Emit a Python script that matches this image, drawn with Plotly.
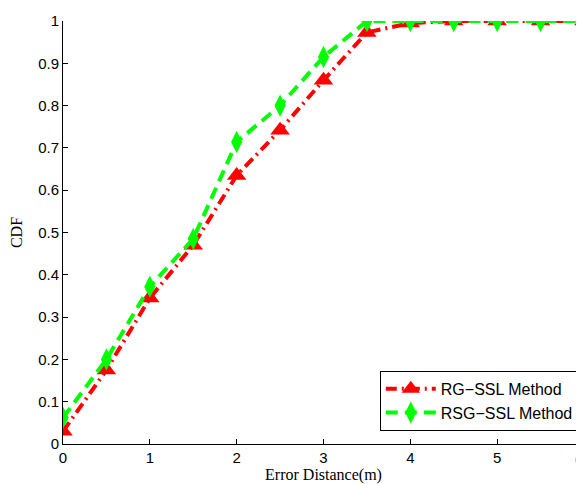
import plotly.graph_objects as go

x_vals = [0, 0.5, 1, 1.5, 2, 2.5, 3, 3.5, 4, 4.5, 5, 5.5, 6]
rg_ssl = [0.03, 0.175, 0.345, 0.47, 0.635, 0.742, 0.86, 0.973, 0.995, 1.0, 1.0, 1.0, 1.0]
rsg_ssl = [0.062, 0.20, 0.372, 0.485, 0.714, 0.80, 0.915, 1.0, 1.0, 1.0, 1.0, 1.0, 1.0]
y_ticks = [0, 0.1, 0.2, 0.3, 0.4, 0.5, 0.6, 0.7, 0.8, 0.9, 1]
x_ticks = [0, 1, 2, 3, 4, 5, 6]

tick_font = dict(family="Liberation Sans, Arial", size=15, color="black")
title_font = dict(family="Liberation Serif, Times New Roman", size=16, color="black")

fig = go.Figure()
fig.add_trace(go.Scatter(
    x=x_vals, y=rg_ssl, name="RG\u2212SSL Method", mode="lines+markers",
    line=dict(color="#FF0000", width=4, dash="11px,5px,2px,5px"),
    marker=dict(symbol="triangle-up", size=17, color="#FF0000"),
))
fig.add_trace(go.Scatter(
    x=x_vals, y=rsg_ssl, name="RSG\u2212SSL Method", mode="lines+markers",
    line=dict(color="#00FF00", width=4, dash="12px,7px"),
    marker=dict(symbol="diamond-tall", size=16, color="#00FF00"),
))

axis_common = dict(
    showline=True, linecolor="black", linewidth=1,
    ticks="inside", ticklen=5, tickcolor="black",
    showgrid=False, zeroline=False, mirror=False,
    tickfont=tick_font,
)
fig.update_xaxes(range=[0, 6], tickvals=x_ticks,
                 title=dict(text="Error Distance(m)", standoff=0, font=title_font),
                 **axis_common)
fig.update_yaxes(range=[0, 1], tickvals=y_ticks,
                 title=dict(text="CDF", standoff=12, font=title_font),
                 **axis_common)

# last x tick label sits on the right edge of the page
fig.add_annotation(x=x_ticks[-1], y=0, xref="x", yref="paper", text=str(x_ticks[-1]),
                   showarrow=False, yanchor="top", xanchor="right", xshift=1, yshift=-5,
                   font=tick_font)

fig.update_layout(
    width=576, height=476,
    margin=dict(l=55, r=0, t=13, b=40, autoexpand=False),
    plot_bgcolor="white", paper_bgcolor="white",
    legend=dict(x=0.99, y=0.031, xanchor="right", yanchor="bottom",
                bordercolor="black", borderwidth=1, bgcolor="white",
                tracegroupgap=0, itemwidth=50,
                font=dict(family="Liberation Sans, Arial", size=16, color="black")),
)
fig.write_html("out.html")
